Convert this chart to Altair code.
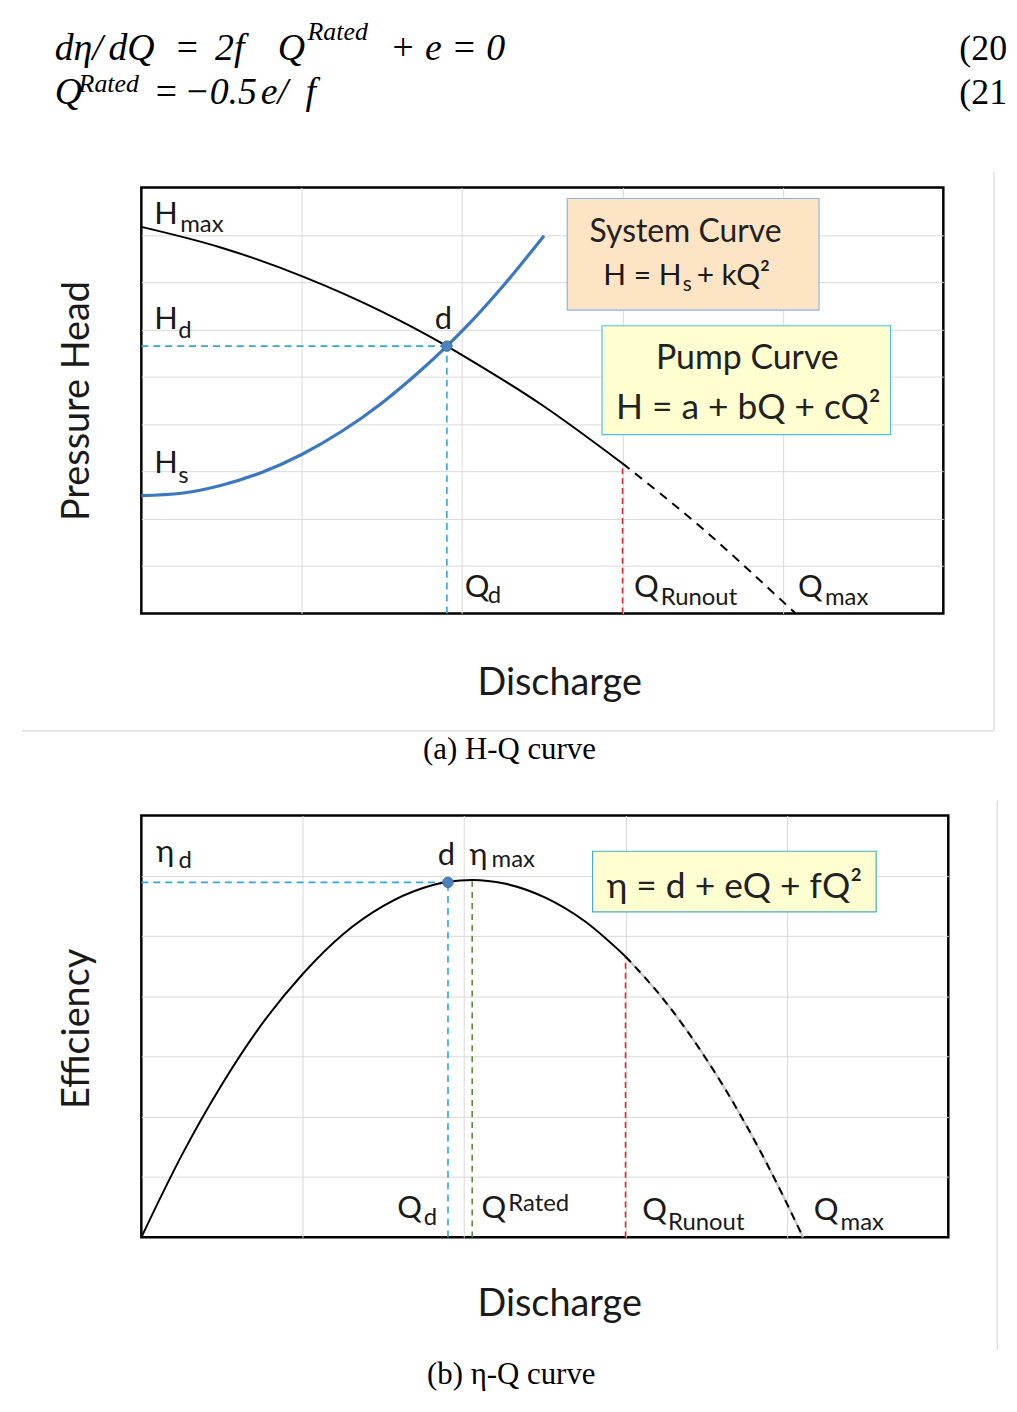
import altair as alt
import pandas as pd

# ---------------- data (abstract units) ----------------
# (a) H-Q curve
pump_q = [0.0, 0.5, 1.0, 1.5, 1.905, 2.0, 2.5, 3.0]
pump_h = [8.17, 7.73, 7.13, 6.38, 5.65, 5.46, 4.40, 3.17]
pump_ext_q = [3.0, 3.5, 4.0, 4.08]
pump_ext_h = [3.17, 1.79, 0.25, 0.0]
sys_q = [0.0, 0.25, 0.5, 0.75, 1.0, 1.25, 1.5, 1.75, 1.905, 2.0, 2.25, 2.51]
sys_h = [2.49, 2.54, 2.71, 2.98, 3.36, 3.85, 4.45, 5.16, 5.65, 5.97, 6.90, 7.98]
duty_q, duty_h = 1.905, 5.65
runout_q, runout_h = 3.0, 3.17

# (b) eta-Q curve
eff_q = [0.0, 0.25, 0.5, 0.75, 1.0, 1.25, 1.5, 1.75, 1.9, 2.05, 2.25, 2.5, 2.75, 3.0]
eff_e = [0.0, 1.36, 2.54, 3.55, 4.37, 5.03, 5.50, 5.80, 5.90, 5.93, 5.87, 5.64, 5.24, 4.66]
eff_ext_q = [3.0, 3.25, 3.5, 3.75, 4.0, 4.1]
eff_ext_e = [4.66, 3.90, 2.96, 1.85, 0.56, 0.0]
duty_eff_q, duty_eff = 1.90, 5.89
rated_q, rated_eff = 2.05, 5.93
runout_eff = 4.66

grid_x = [1, 2, 3, 4]
grid_ya = [1, 2, 3, 4, 5, 6, 7, 8]
grid_yb = [1, 2, 3, 4, 5, 6]

# ---------------- annotation tables (data coordinates) ----------------
a_labels = pd.DataFrame([
    ("H", 0.081, 8.24, 31), ("max", 0.242, 8.07, 24),
    ("H", 0.081, 6.01, 31), ("d", 0.230, 5.82, 24),
    ("H", 0.081, 2.96, 31), ("s", 0.230, 2.75, 24),
    ("d", 1.830, 6.01, 31),
    ("Q", 2.016, 0.357, 31), ("d", 2.159, 0.231, 24),
    ("Q", 3.071, 0.357, 31), ("Runout", 3.238, 0.189, 24),
    ("Q", 4.094, 0.357, 31), ("max", 4.262, 0.189, 24),
    ("H = H", 2.880, 6.94, 30), ("s", 3.375, 6.81, 21), ("+ kQ²", 3.462, 6.94, 30),
], columns=["text", "x", "y", "fs"])
a_center = pd.DataFrame([
    ("System Curve", 3.393, 7.86, 32),
    ("Pump Curve", 3.778, 5.17, 34),
    ("H = a + bQ + cQ²", 3.784, 4.12, 35.5),
], columns=["text", "x", "y", "fs"])
a_eq = pd.DataFrame([
    ("dη/", -0.540, 11.69, 38), ("dQ", -0.205, 11.69, 38), ("=", 0.205, 11.69, 38),
    ("2f", 0.460, 11.69, 38), ("Q", 0.850, 11.69, 38), ("Rated", 1.036, 12.11, 26),
    ("+ e = 0", 1.551, 11.69, 38),
    ("Q", -0.540, 10.77, 38), ("Rated", -0.391, 11.02, 26), ("=", 0.074, 10.77, 38),
    ("−0.5", 0.267, 10.77, 38), ("e/", 0.744, 10.77, 38), ("f", 1.024, 10.77, 38),
], columns=["text", "x", "y", "fs"])
a_num = pd.DataFrame([
    ("(20", 5.100, 11.69, 36), ("(21", 5.100, 10.77, 36),
], columns=["text", "x", "y", "fs"])
a_cap = pd.DataFrame([("(a) H-Q curve", 2.295, -3.07, 31)], columns=["text", "x", "y", "fs"])
a_boxes = pd.DataFrame([
    (2.655, 4.225, 8.77, 6.41, "#FCE4C4", "#8DB3E2"),
    (2.872, 4.671, 6.08, 3.78, "#FEFED0", "#4BC0E0"),
], columns=["x", "x2", "y", "y2", "fill", "stroke"])
a_frame = pd.DataFrame([
    (-0.744, 5.316, -2.481, -2.481),
    (5.316, 5.316, 9.335, -2.481),
], columns=["x", "x2", "y", "y2"])

b_labels = pd.DataFrame([
    ("η", 0.092, 6.22, 31), ("d", 0.230, 6.13, 24),
    ("d", 1.837, 6.17, 31), ("η", 2.034, 6.17, 31), ("max", 2.170, 6.14, 24),
    ("Q", 1.585, 0.314, 31), ("d", 1.750, 0.198, 24),
    ("Q", 2.108, 0.314, 31), ("Rated", 2.273, 0.429, 24),
    ("Q", 3.103, 0.281, 31), ("Runout", 3.263, 0.116, 24),
    ("Q", 4.166, 0.281, 31), ("max", 4.332, 0.116, 24),
], columns=["text", "x", "y", "fs"])
b_center = pd.DataFrame([("η = d + eQ + fQ²", 3.674, 5.63, 35.5)], columns=["text", "x", "y", "fs"])
b_cap = pd.DataFrame([("(b) η-Q curve", 2.292, -2.43, 31)], columns=["text", "x", "y", "fs"])
b_boxes = pd.DataFrame([(2.796, 4.553, 6.406, 5.399, "#FEFED0", "#4BACC6")],
                       columns=["x", "x2", "y", "y2", "fill", "stroke"])
b_frame = pd.DataFrame([(5.303, 5.303, 7.248, -1.866)], columns=["x", "x2", "y", "y2"])

# ---------------- styling ----------------
LABEL_FONT = "Lato, Noto Sans, sans-serif"
SERIF = "Liberation Serif"
CYAN = "#2EA8DC"
RED = "#E5282E"
GREEN = "#5E8A3A"
BLUE = "#3C78BF"
DOT = "#4F81BD"


def axes(xtitle, ytitle, yvals, title_x, title_y_x, title_y_y, title_x_y):
    ax = alt.Axis(values=grid_x, grid=True, ticks=False, labels=False, domain=False,
                  title=xtitle, titleX=title_x, titleY=title_x_y, titleBaseline="alphabetic",
                  titleAlign="center", titleFont=LABEL_FONT, titleFontSize=38,
                  titleFontWeight="normal", titleColor="#1a1a1a")
    ay = alt.Axis(values=yvals, grid=True, ticks=False, labels=False, domain=False,
                  title=ytitle, titleAngle=270, titleX=title_y_x, titleY=title_y_y,
                  titleBaseline="alphabetic", titleAlign="center", titleFont=LABEL_FONT,
                  titleFontSize=38, titleFontWeight="normal", titleColor="#1a1a1a")
    return ax, ay


def build(xs, ys, ax, ay, parts):
    def X(f="x"):
        return alt.X(f"{f}:Q", scale=xs, axis=ax)

    def Y(f="y"):
        return alt.Y(f"{f}:Q", scale=ys, axis=ay)

    layers = []
    for kind, df, opts in parts:
        if kind == "line":
            layers.append(alt.Chart(df).mark_line(interpolate="monotone", **opts).encode(x=X(), y=Y()))
        elif kind == "rule":
            layers.append(alt.Chart(df).mark_rule(**opts).encode(
                x=X(), x2=alt.X2("x2"), y=Y(), y2=alt.Y2("y2")))
        elif kind == "rect":
            layers.append(alt.Chart(df).mark_rect(strokeWidth=1.2).encode(
                x=X(), x2=alt.X2("x2"), y=Y(), y2=alt.Y2("y2"),
                fill=alt.Fill("fill:N", scale=None), stroke=alt.Stroke("stroke:N", scale=None)))
        elif kind == "point":
            layers.append(alt.Chart(df).mark_circle(size=110, opacity=1, color=DOT,
                                                    stroke="#3A6EA8", strokeWidth=1).encode(x=X(), y=Y()))
        elif kind == "text":
            layers.append(alt.Chart(df).mark_text(**opts).encode(
                x=X(), y=Y(), text="text:N", size=alt.Size("fs:Q", scale=None)))
    return alt.layer(*layers)


def pts(xv, yv):
    return pd.DataFrame({"x": xv, "y": yv})


def seg(x, x2, y, y2):
    return pd.DataFrame({"x": [x], "x2": [x2], "y": [y], "y2": [y2]})


lbl = dict(font=LABEL_FONT, align="left", baseline="alphabetic", color="#1a1a1a")
ctr = dict(font=LABEL_FONT, align="center", baseline="alphabetic", color="#222222")
eq = dict(font=SERIF, fontStyle="italic", align="left", baseline="alphabetic", color="black")
num = dict(font=SERIF, align="left", baseline="alphabetic", color="black")
cap = dict(font=SERIF, align="center", baseline="alphabetic", color="black")

# ---------------- chart (a) ----------------
xsA = alt.Scale(domain=[0, 5], nice=False, zero=False)
ysA = alt.Scale(domain=[0, 9], nice=False, zero=False)
axA, ayA = axes("Discharge", "Pressure Head", grid_ya, 420, -53, 214, 81)

chartA = build(xsA, ysA, axA, ayA, [
    ("rule", a_frame, dict(color="#D0D0D0", strokeWidth=1)),
    ("rule", seg(0, duty_q, duty_h, duty_h), dict(color=CYAN, strokeWidth=1.6, strokeDash=[7, 5])),
    ("rule", seg(duty_q, duty_q, 0, duty_h), dict(color=CYAN, strokeWidth=1.6, strokeDash=[7, 5])),
    ("rule", seg(runout_q, runout_q, 0, runout_h), dict(color=RED, strokeWidth=1.6, strokeDash=[6, 4])),
    ("line", pts(pump_q, pump_h), dict(color="black", strokeWidth=2)),
    ("line", pts(pump_ext_q, pump_ext_h), dict(color="black", strokeWidth=2, strokeDash=[9, 7])),
    ("line", pts(sys_q, sys_h), dict(color=BLUE, strokeWidth=3.2)),
    ("point", pts([duty_q], [duty_h]), {}),
    ("rect", a_boxes, {}),
    ("text", a_labels, lbl),
    ("text", a_center, ctr),
    ("text", a_eq, eq),
    ("text", a_num, num),
    ("text", a_cap, cap),
]).properties(width=806, height=428)

# ---------------- chart (b) ----------------
xsB = alt.Scale(domain=[0, 5], nice=False, zero=False)
ysB = alt.Scale(domain=[0, 7], nice=False, zero=False)
axB, ayB = axes("Discharge", "Efficiency", grid_yb, 420, -53, 214, 79)

chartB = build(xsB, ysB, axB, ayB, [
    ("rule", b_frame, dict(color="#D0D0D0", strokeWidth=1)),
    ("rule", seg(0, duty_eff_q, duty_eff, duty_eff), dict(color=CYAN, strokeWidth=1.6, strokeDash=[7, 5])),
    ("rule", seg(duty_eff_q, duty_eff_q, 0, duty_eff), dict(color=CYAN, strokeWidth=1.6, strokeDash=[7, 5])),
    ("rule", seg(rated_q, rated_q, 0, rated_eff), dict(color=GREEN, strokeWidth=1.6, strokeDash=[6, 5])),
    ("rule", seg(runout_q, runout_q, 0, runout_eff), dict(color=RED, strokeWidth=1.6, strokeDash=[6, 4])),
    ("line", pts(eff_q, eff_e), dict(color="black", strokeWidth=2)),
    ("line", pts(eff_ext_q, eff_ext_e), dict(color="#C8C8C8", strokeWidth=2.4)),
    ("line", pts(eff_ext_q, eff_ext_e), dict(color="black", strokeWidth=2, strokeDash=[8, 6])),
    ("point", pts([duty_eff_q], [duty_eff]), {}),
    ("rect", b_boxes, {}),
    ("text", b_labels, lbl),
    ("text", b_center, ctr),
    ("text", b_cap, cap),
]).properties(width=811, height=424)

chart = alt.vconcat(chartA, chartB, spacing=203, bounds="flush").properties(
    padding={"left": 12, "top": 6, "right": 0, "bottom": 10}
).configure_view(stroke="black", strokeWidth=2.5).configure_axis(
    gridColor="#D9D9D9", gridWidth=1
)

chart.save("out.html", embed_options={"renderer": "svg", "actions": False})
